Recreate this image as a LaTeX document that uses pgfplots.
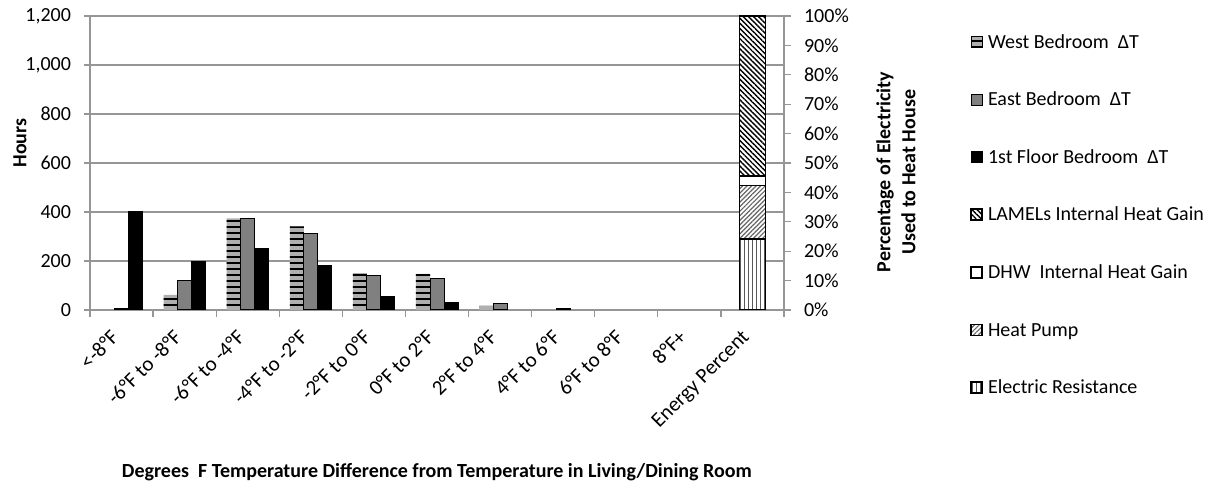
\documentclass[border=0pt]{standalone}
\usepackage{pgfplots}
\pgfplotsset{compat=1.18}
\usepackage{fontspec}
\setmainfont{Carlito}
\usetikzlibrary{patterns.meta}

\definecolor{axgray}{RGB}{150,150,150}
\definecolor{eastgray}{RGB}{128,128,128}
\definecolor{stripegray}{RGB}{175,175,175}

% pattern styles
\tikzset{
  west/.style={fill=stripegray, draw=none,
    postaction={pattern={Lines[angle=0, distance=3pt, line width=1.4pt]}, pattern color=black}},
  east/.style={fill=eastgray, draw=black, line width=0.5pt},
  first/.style={fill=black, draw=black, line width=0.5pt},
  lamel/.style={fill=white, draw=black, line width=0.8pt,
    postaction={pattern={Lines[angle=-45, distance=1.8pt, line width=0.7pt]}, pattern color=black}},
  dhw/.style={fill=white, draw=black, line width=0.8pt},
  hpump/.style={fill=white, draw=black, line width=0.8pt,
    postaction={pattern={Lines[angle=45, distance=1.6pt, line width=0.6pt]}, pattern color=black!60}},
  eres/.style={fill=white, draw=black, line width=0.8pt,
    postaction={pattern={Lines[angle=90, distance=2pt, line width=0.5pt]}, pattern color=black!65}},
}

\pgfplotsset{
  base/.style={
    scale only axis, width=347pt, height=147pt,
    at={(45pt,87.5pt)}, anchor=south west,
    xmin=-0.5, xmax=10.5,
    /pgf/number format/assume math mode=true,
    tick label style={font=\fontsize{10}{12}\selectfont},
    label style={font=\bfseries\fontsize{10}{12.5}\selectfont},
    tick style={axgray, line width=0.6pt},
    axis line style={-, axgray, line width=0.6pt},
    tick align=outside,
  }
}

\begin{document}
\begin{tikzpicture}[x=1pt,y=1pt]
\useasboundingbox (0,0) rectangle (602.5,242.5);

% left axis: hours per temperature bin
\begin{axis}[base,
  ymin=0, ymax=1200, ytick={0,200,...,1200},
  /pgf/number format/1000 sep={,},
  ymajorgrids, grid style={axgray, line width=0.6pt},
  axis x line*=bottom, axis y line*=left,
  xtick={0,...,10}, major x tick style={draw=none},
  minor xtick={-0.5,0.5,...,10.5},
  major tick length=3pt, minor tick length=3.5pt,
  xticklabels={{<-8°F},{-6°F to -8°F},{-6°F to -4°F},{-4°F to -2°F},{-2°F to 0°F},{0°F to 2°F},{2°F to 4°F},{4°F to 6°F},{6°F to 8°F},{8°F+},{Energy Percent}},
  xticklabel style={xshift=-6pt, yshift=-6pt, rotate=45, anchor=north east, inner sep=0pt,
    font=\fontsize{10.5}{12}\selectfont},
  yticklabel style={xshift=-3pt},
  ylabel={Hours},
  ylabel style={at={(axis description cs:-0.101,0.568)}, anchor=center},
  xlabel={Degrees\ \ F Temperature Difference from Temperature in Living/Dining Room},
  xlabel style={at={(axis description cs:0.5,-0.55)}, anchor=center},
  ybar, bar width=0.222,
]
\addplot[west, bar shift=-0.222] coordinates {(1,62) (2,374) (3,341) (4,150) (5,147) (6,17)};
\addplot[east, bar shift=0] coordinates {(0,7) (1,120) (2,375) (3,314) (4,139) (5,128) (6,26) (7,5)};
\addplot[first, bar shift=0.222] coordinates {(0,400) (1,197) (2,253) (3,182) (4,54) (5,29)};
\end{axis}

% right axis: energy shares
\begin{axis}[base,
  ymin=0, ymax=100, ytick={0,10,...,100},
  yticklabel={\pgfmathprintnumber{\tick}\%},
  yticklabel style={xshift=3pt},
  axis x line=none, axis y line*=right,
  major tick length=3.5pt,
  ylabel={Percentage of Electricity\\Used to Heat House},
  ylabel style={align=center, at={(axis description cs:1.1614,0.469)}, anchor=center},
  ybar stacked, bar width=0.412,
  legend image code/.code={\draw[#1] (0pt,-2.2pt) rectangle (5.5pt,3.3pt);},
  legend style={at={(axis description cs:1.268,0.94)}, anchor=north west,
    draw=none, fill=none, inner sep=0pt, row sep=19.8pt, column sep=2.5pt,
    font=\fontsize{10}{12}\selectfont,
    nodes={inner sep=0pt, text height=7pt, text depth=2pt}},
  legend cell align=left,
  legend columns=1,
]
\addlegendimage{west}\addlegendentry{West Bedroom\ \ ΔT}
\addlegendimage{east}\addlegendentry{East Bedroom\ \ ΔT}
\addlegendimage{first}\addlegendentry{1st Floor Bedroom\ \ ΔT}
\addlegendimage{lamel}\addlegendentry{LAMELs Internal Heat Gain}
\addlegendimage{dhw}\addlegendentry{DHW\ \ Internal Heat Gain}
\addlegendimage{hpump}\addlegendentry{Heat Pump}
\addlegendimage{eres}\addlegendentry{Electric Resistance}
\addplot[eres, forget plot] coordinates {(10,24.1)};
\addplot[hpump, forget plot] coordinates {(10,18.3)};
\addplot[dhw, forget plot] coordinates {(10,3.1)};
\addplot[lamel, forget plot] coordinates {(10,54.5)};
\end{axis}
\end{tikzpicture}
\end{document}
